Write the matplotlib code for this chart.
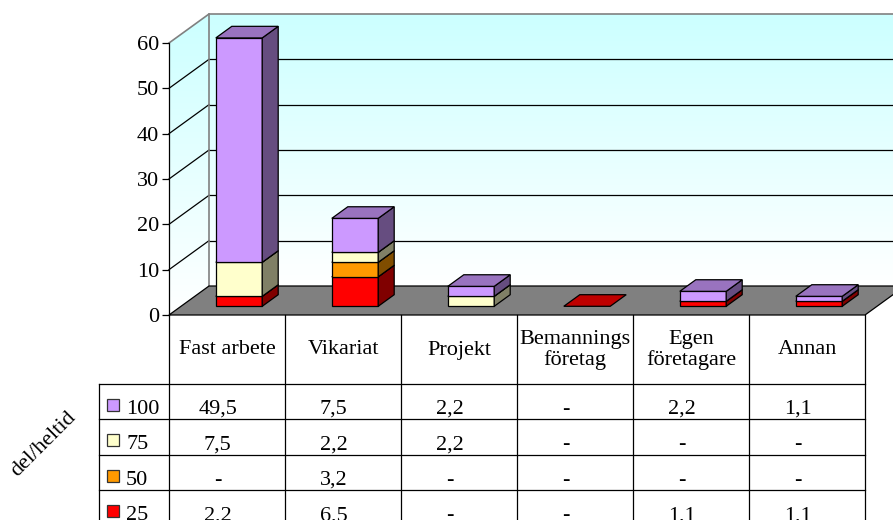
import numpy as np
import matplotlib.pyplot as plt
from matplotlib.patches import Polygon
from matplotlib.colors import to_rgb

plt.rcParams['font.family'] = ['Liberation Serif', 'DejaVu Serif']

#%% data

categories = ["Fast arbete", "Vikariat", "Projekt", "Bemannings\nföretag", "Egen\nföretagare", "Annan"]
series_labels = ["100", "75", "50", "25"]          # table order, top to bottom
v100 = [49.5, 7.5, 2.2, 0, 2.2, 1.1]
v75 = [7.5, 2.2, 2.2, 0, 0, 0]
v50 = [0, 3.2, 0, 0, 0, 0]
v25 = [2.2, 6.5, 0, 0, 1.1, 1.1]
yticks = [0, 10, 20, 30, 40, 50, 60]
side_label = "del/heltid"

series = {"100": v100, "75": v75, "50": v50, "25": v25}
colors = {"100": "#CC99FF", "75": "#FFFFCC", "50": "#FF9900", "25": "#FF0000"}
stack_order = ["25", "50", "75", "100"]             # bottom to top

#%% layout (pixels of the 893x520 picture)

W, H = 893, 520
left_px, right_px = 169, 865       # front plane, x
zero_px, top_px = 315, 43          # front plane, y for 0 and 60
pxx = (right_px - left_px) / len(categories)
pxy = (zero_px - top_px) / 60
DX, DY = 40 / pxx, 29 / pxy        # depth of the 3d box in data units


def py(p):
    # pixel row below the plot -> data y
    return -(p - zero_px) / pxy


def px(p):
    return -0.5 + (p - left_px) / pxx


def shade(c, f):
    r, g, b = to_rgb(c)
    return (r * f, g * f, b * f)


fig = plt.figure(figsize=(W / 100, H / 100), dpi=100)
ax = fig.add_axes([left_px / W, 1 - zero_px / H, (right_px - left_px) / W, (zero_px - top_px) / H])
ax.patch.set_visible(False)

#%% walls with gradient

grad = np.linspace(0, 1, 256)[:, None, None]
white = np.array([1.0, 1.0, 1.0])
cyan = np.array(to_rgb("#CCFFFF"))
img = white * (1 - grad) + cyan * grad

xr_end = len(categories) - 0.5
back = Polygon([(-0.5 + DX, DY), (xr_end + DX + 1, DY), (xr_end + DX + 1, 60 + DY), (-0.5 + DX, 60 + DY)],
               closed=True, transform=ax.transData)
im = ax.imshow(img, origin="lower", aspect="auto", extent=(-0.5 + DX, xr_end + DX + 1, DY, 60 + DY), zorder=0)
im.set_clip_box(fig.bbox)
im.set_clip_path(back)

lwall = Polygon([(-0.5, 0), (-0.5 + DX, DY), (-0.5 + DX, 60 + DY), (-0.5, 60)], closed=True, transform=ax.transData)
im2 = ax.imshow(img, origin="lower", aspect="auto", extent=(-0.5, -0.5 + DX, 0, 60 + DY), zorder=0)
im2.set_clip_box(fig.bbox)
im2.set_clip_path(lwall)

# gridlines on the walls
for v in yticks[1:-1]:
    ax.plot([-0.5 + DX, xr_end + DX + 1], [v + DY, v + DY], color="black", lw=0.9, zorder=1, clip_on=False)
    ax.plot([-0.5, -0.5 + DX], [v, v + DY], color="black", lw=0.9, zorder=1, clip_on=False)

# wall edges
ax.plot([-0.5, -0.5 + DX, xr_end + DX + 1], [60, 60 + DY, 60 + DY], color="#808080", lw=1.2, zorder=1, clip_on=False)
ax.plot([-0.5 + DX, -0.5 + DX], [DY, 60 + DY], color="#808080", lw=1.2, zorder=1, clip_on=False)

# floor
floor = Polygon([(-0.5, 0), (xr_end, 0), (xr_end + DX, DY), (-0.5 + DX, DY)], closed=True,
                facecolor="#808080", edgecolor="black", lw=0.9, zorder=2, clip_on=False)
ax.add_patch(floor)

#%% stacked 3d bars

a, b = 0.3, 0.7
half = 0.2


def box(i, y0, y1, color, draw_front=True):
    xl, xr = i - half, i + half
    face_kw = dict(closed=True, edgecolor="black", lw=0.9, zorder=3, clip_on=False)
    if draw_front:
        ax.add_patch(Polygon([(xl + a * DX, y0 + a * DY), (xr + a * DX, y0 + a * DY),
                              (xr + a * DX, y1 + a * DY), (xl + a * DX, y1 + a * DY)],
                             facecolor=color, **face_kw))
        ax.add_patch(Polygon([(xr + a * DX, y0 + a * DY), (xr + b * DX, y0 + b * DY),
                              (xr + b * DX, y1 + b * DY), (xr + a * DX, y1 + a * DY)],
                             facecolor=shade(color, 0.5), **face_kw))
    ax.add_patch(Polygon([(xl + a * DX, y1 + a * DY), (xr + a * DX, y1 + a * DY),
                          (xr + b * DX, y1 + b * DY), (xl + b * DX, y1 + b * DY)],
                         facecolor=shade(color, 0.75), **face_kw))


for i in range(len(categories)):
    bottom = 0
    for key in stack_order:
        val = series[key][i]
        if val > 0:
            box(i, bottom, bottom + val, colors[key])
            bottom += val
    if bottom == 0:
        box(i, 0, 0, colors[stack_order[0]], draw_front=False)

#%% axis

ax.set_xlim(-0.5, xr_end)
ax.set_ylim(0, 60)
ax.set_yticks(yticks)
ax.set_xticks([])
for s in ["top", "right", "bottom"]:
    ax.spines[s].set_visible(False)
ax.spines["left"].set_linewidth(0.9)
ax.spines["left"].set_zorder(4)
ax.tick_params(axis="y", length=5, width=0.9, pad=2, labelsize=16)

#%% data table

header_bottom = 384
row_h = 35.4
n_rows = len(series_labels)
table_bottom = H + 10
leg_left = 99

line_kw = dict(color="black", lw=0.9, zorder=4, clip_on=False)
# column lines
for k in range(len(categories) + 1):
    ax.plot([k - 0.5, k - 0.5], [0, py(table_bottom)], **line_kw)
# row lines
ax.plot([px(leg_left), xr_end], [py(header_bottom), py(header_bottom)], **line_kw)
for r in range(1, n_rows + 1):
    yy = py(header_bottom + r * row_h)
    ax.plot([px(leg_left), xr_end], [yy, yy], **line_kw)
ax.plot([px(leg_left), px(leg_left)], [py(header_bottom), py(table_bottom)], **line_kw)

# header
for i, cat in enumerate(categories):
    ax.text(i, py(350), cat, ha="center", va="center", fontsize=16, linespacing=1.05, clip_on=False)

# rows
for r, key in enumerate(series_labels):
    base = py(header_bottom + r * row_h + 30)
    mid = py(header_bottom + r * row_h + 21)
    ax.plot([px(112.5)], [mid], marker="s", markersize=9, markerfacecolor=colors[key],
            markeredgecolor="#333333", markeredgewidth=0.9, clip_on=False, zorder=5)
    ax.text(px(126), base, key, ha="left", va="baseline", fontsize=16, clip_on=False)
    for i, val in enumerate(series[key]):
        txt = f"{val:.1f}".replace(".", ",") if val > 0 else "-"
        ax.text(i - 0.08, base, txt, ha="center", va="baseline", fontsize=16, clip_on=False)

ax.text(px(44), py(444), side_label, rotation=45, ha="center", va="center", fontsize=16,
        rotation_mode="anchor", clip_on=False)

fig.savefig("out.png", dpi=100, facecolor="white")
